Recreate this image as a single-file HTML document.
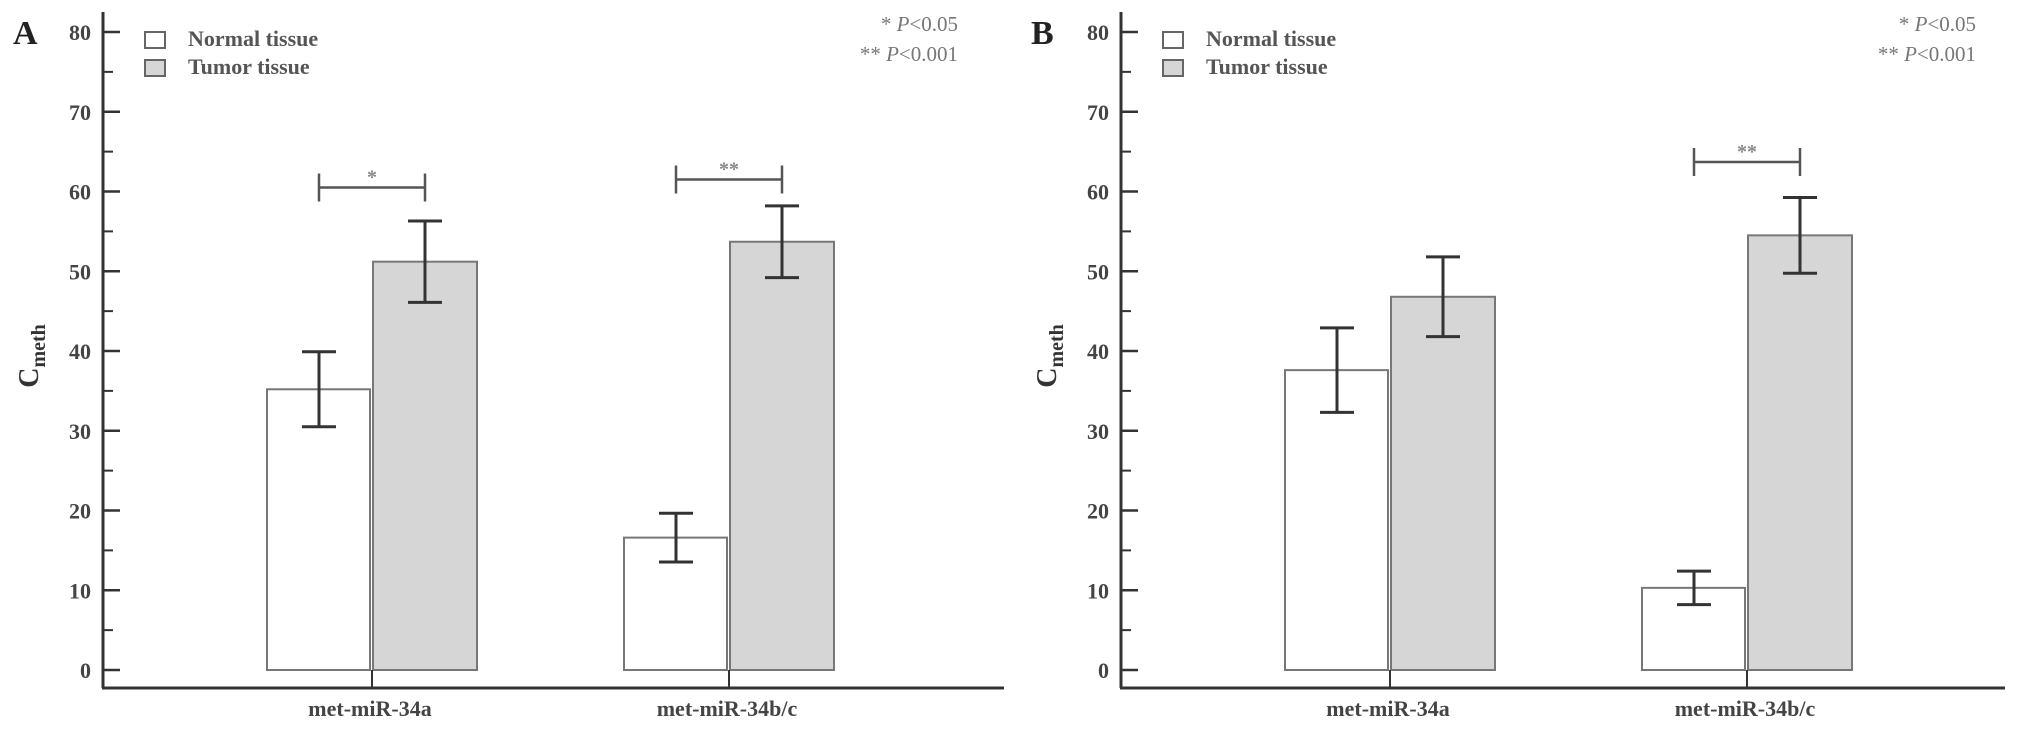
<!DOCTYPE html>
<html><head><meta charset="utf-8"><style>
html,body{margin:0;padding:0;background:#fff;width:2031px;height:731px;overflow:hidden}
svg{display:block}
text{font-family:"Liberation Serif",serif}
</style></head><body>
<svg id="chart" width="2031" height="731" xmlns="http://www.w3.org/2000/svg"></svg>
<script>
const categories = ["met-miR-34a", "met-miR-34b/c"];
const yTicks = [0, 10, 20, 30, 40, 50, 60, 70, 80];
const normalA = [35.2, 16.6];
const normalAErr = [4.7, 3.05];
const tumorA = [51.2, 53.7];
const tumorAErr = [5.1, 4.5];
const sigA = ["*", "**"];
const sigAY = [60.5, 61.5];
const normalB = [37.6, 10.3];
const normalBErr = [5.3, 2.1];
const tumorB = [46.8, 54.5];
const tumorBErr = [5.0, 4.75];
const sigB = ["", "**"];
const sigBY = [null, 63.7];

const NS = "http://www.w3.org/2000/svg";
const svg = document.getElementById("chart");
function el(tag, attrs, parent, txt) {
  const e = document.createElementNS(NS, tag);
  for (const k in attrs) e.setAttribute(k, attrs[k]);
  if (txt !== undefined) e.textContent = txt;
  (parent || svg).appendChild(e);
  return e;
}
const y = v => 670 - v * 7.975;

function panel(off, letter, normal, nErr, tumor, tErr, sig, sigY, axisEnd, name) {
  const g = el("g", {}, svg);
  
  
  const xc = i => off + 372 + i * 357;
  const t = el("text", {x: off + 13, y: 44, "font-size": 34, "font-weight": "bold", fill: "#222"}, g, letter);
  
  
  // axes
  const ya = el("line", {x1: off + 103, y1: 12, x2: off + 103, y2: 688, stroke: "#333", "stroke-width": 3}, g);
  
  
  const xa = el("line", {x1: off + 102, y1: 688, x2: axisEnd, y2: 688, stroke: "#333", "stroke-width": 3}, g);
  
  
  yTicks.forEach(v => {
    el("line", {x1: off + 103, y1: y(v), x2: off + 120, y2: y(v), stroke: "#333", "stroke-width": 2.5}, g);
    const tl = el("text", {x: off + 91, y: y(v) + 8, "font-size": 22, "font-weight": "bold", fill: "#444", "text-anchor": "end"}, g, v);
    
    
    if (v < 80) el("line", {x1: off + 103, y1: y(v + 5), x2: off + 113, y2: y(v + 5), stroke: "#333", "stroke-width": 2}, g);
  });
  const yt = el("text", {transform: `translate(${off + 38},356) rotate(-90)`, "font-size": 28, "font-weight": "bold", fill: "#333", "text-anchor": "middle"}, g);
  
  
  el("tspan", {}, yt, "C");
  el("tspan", {dy: 7, "font-size": 20}, yt, "meth");
  // legend
  el("rect", {x: off + 145, y: 32, width: 20, height: 16, fill: "#fff", stroke: "#666", "stroke-width": 2}, g);
  const l1 = el("text", {x: off + 188, y: 46, "font-size": 22, "font-weight": "bold", fill: "#555"}, g, "Normal tissue");
  
  
  el("rect", {x: off + 145, y: 60, width: 20, height: 16, fill: "#d6d6d6", stroke: "#666", "stroke-width": 2}, g);
  const l2 = el("text", {x: off + 188, y: 74, "font-size": 22, "font-weight": "bold", fill: "#555"}, g, "Tumor tissue");
  
  
  // p values
  const p1 = el("text", {x: off + 958, y: 31, "font-size": 21, fill: "#777", "text-anchor": "end"}, g);
  
  
  el("tspan", {}, p1, "* ");
  el("tspan", {"font-style": "italic"}, p1, "P");
  el("tspan", {}, p1, "<0.05");
  const p2 = el("text", {x: off + 958, y: 61, "font-size": 21, fill: "#777", "text-anchor": "end"}, g);
  
  
  el("tspan", {}, p2, "** ");
  el("tspan", {"font-style": "italic"}, p2, "P");
  el("tspan", {}, p2, "<0.001");
  categories.forEach((c, i) => {
    const cx = xc(i);
    const nb = el("rect", {x: cx - 105, y: y(normal[i]), width: 103, height: y(0) - y(normal[i]), fill: "#fff", stroke: "#777", "stroke-width": 2}, g);
    
    
    const tb = el("rect", {x: cx + 1, y: y(tumor[i]), width: 104, height: y(0) - y(tumor[i]), fill: "#d6d6d6", stroke: "#777", "stroke-width": 2}, g);
    
    
    el("line", {x1: cx, y1: 688, x2: cx, y2: y(0), stroke: "#333", "stroke-width": 2}, g);
    [[cx - 53, normal[i], nErr[i]], [cx + 53, tumor[i], tErr[i]]].forEach(([ex, v, e]) => {
      const eb = el("path", {d: `M${ex},${y(v + e)}V${y(v - e)}M${ex - 17},${y(v + e)}H${ex + 17}M${ex - 17},${y(v - e)}H${ex + 17}`, stroke: "#333", "stroke-width": 3, fill: "none"}, g);
      
      
    });
    if (sig[i]) {
      const by = y(sigY[i]);
      const br = el("path", {d: `M${cx - 53},${by - 14}V${by + 14}M${cx - 53},${by}H${cx + 53}M${cx + 53},${by - 14}V${by + 14}`, stroke: "#555", "stroke-width": 2.5, fill: "none"}, g);
      
      
      const st = el("text", {x: cx, y: by - 4, "font-size": 20, "font-weight": "bold", fill: "#888", "text-anchor": "middle"}, g, sig[i]);
      
      
    }
    const xl = el("text", {x: cx - 2, y: 716, "font-size": 22, "font-weight": "bold", fill: "#444", "text-anchor": "middle"}, g, c);
    
    
  });
}
panel(0, "A", normalA, normalAErr, tumorA, tumorAErr, sigA, sigAY, 1004, "panel-a");
panel(1018, "B", normalB, normalBErr, tumorB, tumorBErr, sigB, sigBY, 2005, "panel-b");
</script>
</body></html>
